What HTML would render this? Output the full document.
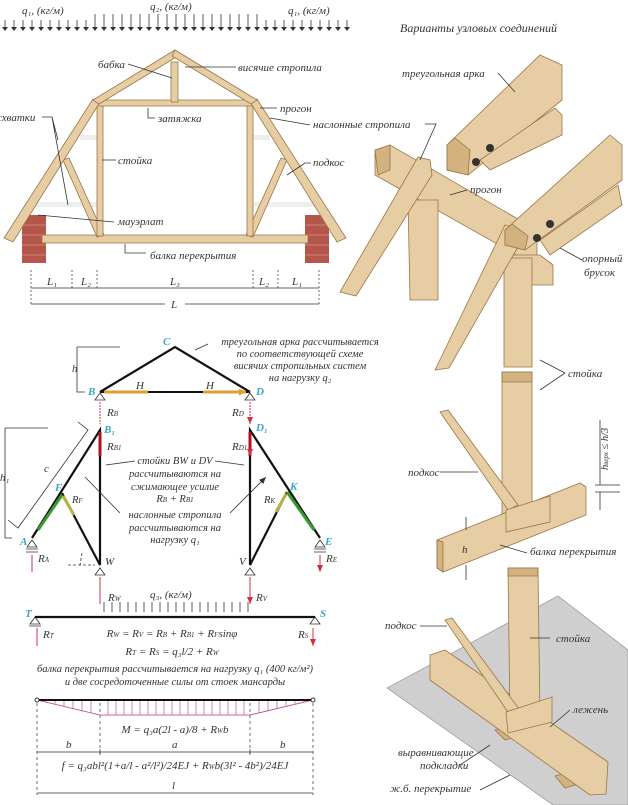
<!DOCTYPE html>
<html><head><meta charset="utf-8"><style>
html,body{margin:0;padding:0;background:#fff;}
svg{display:block;}
text{font-family:"Liberation Serif","DejaVu Serif",serif;font-style:italic;fill:#333;}
.l{font-size:11px;}
.s{font-size:10.5px;}
.b{fill:#3aa6c8;font-size:11px;font-weight:bold;}
.wood{fill:#e6cda3;stroke:#9a7647;stroke-width:0.8;}
.wd{fill:#d2b27f;stroke:#9a7647;stroke-width:0.8;}
.ln{stroke:#333;stroke-width:0.8;fill:none;}
</style></head><body>
<svg width="628" height="805" viewBox="0 0 628 805" xmlns="http://www.w3.org/2000/svg">
<defs>
<marker id="ar" markerUnits="userSpaceOnUse" markerWidth="8" markerHeight="8" refX="7" refY="4" orient="auto"><path d="M0,1 L7,4 L0,7 Z" fill="#d03040"/></marker>
<marker id="ab" markerUnits="userSpaceOnUse" markerWidth="8" markerHeight="8" refX="7" refY="4" orient="auto"><path d="M0,1 L7,4 L0,7 Z" fill="#333"/></marker>
<marker id="ao" markerUnits="userSpaceOnUse" markerWidth="8" markerHeight="8" refX="7" refY="4" orient="auto"><path d="M0,0.5 L7,4 L0,7.5 Z" fill="#e0a030"/></marker>
</defs>

<!-- top loads -->
<text x="22" y="14" class="l">q₁, (кг/м)</text>
<text x="150" y="10" class="l">q₂, (кг/м)</text>
<text x="288" y="14" class="l">q₁, (кг/м)</text>
<g stroke="#333" stroke-width="0.8">
<path d="M5,20V30M14,20V30M23,20V30M32,20V30M41,20V30M50,20V30M59,20V30M68,20V30M77,20V30M86,20V30M95,14V30M104,14V30M113,14V30M122,14V30M131,14V30M140,14V30M149,14V30M158,14V30M167,14V30M176,14V30M185,14V30M194,14V30M203,14V30M212,14V30M221,14V30M230,14V30M239,14V30M248,14V30M257,14V30M266,20V30M275,20V30M284,20V30M293,20V30M302,20V30M311,20V30M320,20V30M329,20V30M338,20V30M347,20V30"/>
</g>
<g fill="#333"><path d="M2,27h6l-3,4zM11,27h6l-3,4zM20,27h6l-3,4zM29,27h6l-3,4zM38,27h6l-3,4zM47,27h6l-3,4zM56,27h6l-3,4zM65,27h6l-3,4zM74,27h6l-3,4zM83,27h6l-3,4zM92,27h6l-3,4zM101,27h6l-3,4zM110,27h6l-3,4zM119,27h6l-3,4zM128,27h6l-3,4zM137,27h6l-3,4zM146,27h6l-3,4zM155,27h6l-3,4zM164,27h6l-3,4zM173,27h6l-3,4zM182,27h6l-3,4zM191,27h6l-3,4zM200,27h6l-3,4zM209,27h6l-3,4zM218,27h6l-3,4zM227,27h6l-3,4zM236,27h6l-3,4zM245,27h6l-3,4zM254,27h6l-3,4zM263,27h6l-3,4zM272,27h6l-3,4zM281,27h6l-3,4zM290,27h6l-3,4zM299,27h6l-3,4zM308,27h6l-3,4zM317,27h6l-3,4zM326,27h6l-3,4zM335,27h6l-3,4zM344,27h6l-3,4z"/></g>

<!-- truss -->
<g>
<rect x="80" y="135" width="20" height="5" fill="#eee"/><rect x="250" y="135" width="20" height="5" fill="#eee"/>
<rect x="35" y="202" width="65" height="5" fill="#eee"/><rect x="250" y="202" width="65" height="5" fill="#eee"/>
<rect x="22" y="215" width="24" height="48" fill="#b5564a"/><rect x="305" y="215" width="24" height="48" fill="#b5564a"/>
<path d="M22,225h24M22,235h24M22,245h24M22,255h24M305,225h24M305,235h24M305,245h24M305,255h24" stroke="#e8b0a8" stroke-width="0.6"/>
<polygon class="wood" points="42,235 308,235 308,243 42,243"/>
<polygon class="wood" points="63,160 69,158 104,235 97,237"/>
<polygon class="wood" points="287,160 281,158 246,235 253,237"/>
<polygon class="wood" points="97,104 103,104 103,236 97,236"/>
<polygon class="wood" points="247,104 253,104 253,236 247,236"/>
<polygon class="wood" points="93,100 257,100 257,106 93,106"/>
<polygon class="wood" points="4,238 93,99 100,102 13,242"/>
<polygon class="wood" points="346,238 257,99 250,102 337,242"/>
<polygon class="wood" points="93,100 175,50 178,56 99,104"/>
<polygon class="wood" points="257,100 175,50 172,56 251,104"/>
<rect x="171" y="62" width="7" height="40" class="wood"/>
</g>
<g class="ln">
<path d="M128,64 L172,78"/><path d="M185,67H236"/><path d="M148,108V118H155"/><path d="M260,108H277"/><path d="M270,118 L310,125"/>
<path d="M42,117H52L68,205M52,117L58,140"/><path d="M102,160H116"/><path d="M287,175 L305,163H311"/><path d="M38,215 L114,222"/><path d="M125,244V253H146"/>
</g>
<text x="98" y="68" class="l">бабка</text>
<text x="238" y="71" class="l">висячие стропила</text>
<text x="158" y="122" class="l">затяжка</text>
<text x="280" y="112" class="l">прогон</text>
<text x="313" y="128" class="l">наслонные стропила</text>
<text x="-3" y="121" class="l">схватки</text>
<text x="118" y="164" class="l">стойка</text>
<text x="313" y="166" class="l">подкос</text>
<text x="118" y="225" class="l">мауэрлат</text>
<text x="150" y="259" class="l">балка перекрытия</text>
<!-- dims -->
<g stroke="#333" stroke-width="0.7" stroke-dasharray="2,2"><path d="M31,270V305M72,270V290M97,270V290M253,270V290M278,270V290M319,270V305"/></g>
<path d="M31,288H319M31,304H165M185,304H319" stroke="#333" stroke-width="0.7"/>
<text x="47" y="285" class="l">L₁</text><text x="81" y="285" class="l">L₂</text><text x="170" y="285" class="l">L₃</text><text x="259" y="285" class="l">L₂</text><text x="292" y="285" class="l">L₁</text><text x="171" y="308" class="l">L</text>

<!-- middle scheme -->
<path d="M77,347H120M77,347V392H85" class="ln"/><text x="72" y="372" class="l">h</text>
<path d="M100,392 L175,347 L250,392" stroke="#111" stroke-width="2.2" fill="none"/>
<path d="M100,392H250" stroke="#111" stroke-width="2"/>
<path d="M148,392H104M203,392H246" stroke="#e0a030" stroke-width="3" marker-end="url(#ao)"/>
<text x="136" y="389" class="l">H</text><text x="206" y="389" class="l">H</text>
<text x="163" y="345" class="b">C</text><text x="88" y="395" class="b">B</text><text x="256" y="395" class="b">D</text>
<path d="M195,350 L208,344" class="ln"/>
<g class="s" text-anchor="middle"><text x="300" y="345">треугольная арка рассчитывается</text><text x="300" y="357">по соответствующей схеме</text><text x="300" y="369">висячих стропильных систем</text><text x="300" y="381">на нагрузку q₂</text></g>
<g fill="none" stroke="#333" stroke-width="0.8"><path d="M100,393 l-5,7h10z M250,393 l-5,7h10z M100,568 l-5,7h10z M250,568 l-5,7h10z M32,540 l-5,7h10z M320,540 l-5,7h10z M35,617 l-5,7h10z M315,617 l-5,7h10z"/>
<path d="M26,549h12M26,552h12M314,549h12M314,552h12M29,626h12"/></g>
<path d="M100,402V424M250,402V424" stroke="#d03040" stroke-width="1" stroke-dasharray="2,1" marker-end="url(#ar)"/>
<text x="107" y="416" class="l">R<tspan font-size="7">B</tspan></text><text x="232" y="416" class="l">R<tspan font-size="7">D</tspan></text>
<text x="104" y="433" class="b">B₁</text><text x="256" y="431" class="b">D₁</text>
<path d="M32,538 L100,430 L100,565 L62,493" stroke="#111" stroke-width="2.2" fill="none"/>
<path d="M320,538 L250,430 L250,565 L287,492" stroke="#111" stroke-width="2.2" fill="none"/>
<path d="M100,432V456M250,432V456" stroke="#b01020" stroke-width="3" marker-end="url(#ar)"/>
<text x="107" y="450" class="l">R<tspan font-size="7">B1</tspan></text><text x="232" y="450" class="l">R<tspan font-size="7">D1</tspan></text>
<path d="M62,495 L38,530" stroke="#3a9a30" stroke-width="3"/><path d="M287,492 L314,530" stroke="#3a9a30" stroke-width="3"/>
<path d="M63,496 L74,515" stroke="#b8b040" stroke-width="3"/><path d="M286,494 L276,512" stroke="#b8b040" stroke-width="3"/>
<text x="55" y="491" class="b">F</text><text x="290" y="490" class="b">K</text>
<text x="20" y="545" class="b">A</text><text x="325" y="545" class="b">E</text>
<text x="105" y="565" class="l">W</text><text x="239" y="565" class="l">V</text>
<text x="72" y="503" class="s">R<tspan font-size="7">F</tspan></text><text x="264" y="503" class="s">R<tspan font-size="7">K</tspan></text>
<path d="M32,555V572M320,555V572" stroke="#d03040" stroke-width="1" marker-end="url(#ar)"/>
<text x="38" y="562" class="l">R<tspan font-size="7">A</tspan></text><text x="326" y="562" class="l">R<tspan font-size="7">E</tspan></text>
<path d="M5,428H48M5,428V538H12" class="ln"/><text x="0" y="481" class="l">h₁</text>
<path d="M78,422 L88,430 L18,528 L8,520" class="ln"/><text x="44" y="472" class="l">c</text>
<path d="M68,565H95M82,553 L80,565" class="ln" stroke-dasharray="3,2"/>
<g class="s" text-anchor="middle"><text x="175" y="464">стойки BW и DV</text><text x="175" y="477">рассчитываются на</text><text x="175" y="490">сжимающее усилие</text><text x="175" y="502">R<tspan font-size="7">B</tspan> + R<tspan font-size="7">B1</tspan></text>
<text x="175" y="518">наслонные стропила</text><text x="175" y="531">рассчитываются на</text><text x="175" y="543">нагрузку q₁</text></g>
<path d="M135,461 L106,465M215,461 L244,465M120,513 L85,477M230,513 L266,477" class="ln" marker-end="url(#ab)"/>

<!-- beam TS -->
<path d="M100,577V604M250,577V604" stroke="#d03040" stroke-width="1" marker-end="url(#ar)"/>
<text x="108" y="601" class="l">R<tspan font-size="7">W</tspan></text><text x="256" y="601" class="l">R<tspan font-size="7">V</tspan></text>
<text x="150" y="598" class="l">q₃, (кг/м)</text>
<g stroke="#333" stroke-width="0.8"><path d="M104,602V612M112,602V612M120,602V612M128,602V612M136,602V612M144,602V612M152,602V612M160,602V612M168,602V612M176,602V612M184,602V612M192,602V612M200,602V612M208,602V612M216,602V612M224,602V612M232,602V612M240,602V612M248,602V612"/></g>
<path d="M35,617H315" stroke="#111" stroke-width="2.2"/>
<text x="25" y="617" class="b">T</text><text x="320" y="617" class="b">S</text>
<path d="M37,628V646M313,628V646" stroke="#d03040" stroke-width="1" marker-end="url(#ar)"/>
<text x="43" y="638" class="l">R<tspan font-size="7">T</tspan></text><text x="298" y="638" class="l">R<tspan font-size="7">S</tspan></text>
<g class="l" text-anchor="middle"><text x="172" y="637">R<tspan font-size="7">W</tspan> = R<tspan font-size="7">V</tspan> = R<tspan font-size="7">B</tspan> + R<tspan font-size="7">B1</tspan> + R<tspan font-size="7">F</tspan>sinφ</text>
<text x="172" y="655">R<tspan font-size="7">T</tspan> = R<tspan font-size="7">S</tspan> = q₃l/2 + R<tspan font-size="7">W</tspan></text>
<text x="175" y="672" class="s">балка перекрытия рассчитывается на  нагрузку q₁ (400 кг/м²)</text>
<text x="175" y="685" class="s">и две сосредоточенные силы от стоек мансарды</text></g>
<path d="M37,700 L100,715 L250,715 L313,700" stroke="#b04080" stroke-width="0.8" fill="none"/>
<g stroke="#b04080" stroke-width="0.6"><path d="M46,700V702M55,700V704M64,700V706M73,700V709M82,700V711M91,700V713M108,700V715M116,700V715M124,700V715M132,700V715M140,700V715M148,700V715M156,700V715M164,700V715M172,700V715M180,700V715M188,700V715M196,700V715M204,700V715M212,700V715M220,700V715M228,700V715M236,700V715M244,700V715M259,700V713M268,700V711M277,700V709M286,700V706M295,700V704M304,700V702"/></g>
<path d="M37,700H313" stroke="#111" stroke-width="2"/>
<circle cx="37" cy="700" r="2" fill="#fff" stroke="#333"/><circle cx="313" cy="700" r="2" fill="#fff" stroke="#333"/>
<g stroke="#333" stroke-width="0.7" stroke-dasharray="3,3"><path d="M37,703V795M100,703V755M250,703V755M313,703V795"/></g>
<text x="175" y="733" class="l" text-anchor="middle">M = q₃a(2l - a)/8 + R<tspan font-size="7">W</tspan>b</text>
<text x="66" y="748" class="l">b</text><text x="172" y="748" class="l">a</text><text x="280" y="748" class="l">b</text>
<path d="M37,752H313M100,749V755M250,749V755" stroke="#333" stroke-width="0.7"/>
<text x="175" y="769" class="l" text-anchor="middle">f = q₃abl²(1+a/l - a²/l²)/24EJ + R<tspan font-size="7">W</tspan>b(3l² - 4b²)/24EJ</text>
<text x="172" y="789" class="l">l</text>
<path d="M37,793H313" stroke="#333" stroke-width="0.7"/>

<!-- right side -->
<text x="400" y="32" font-size="12">Варианты узловых соединений</text>
<polygon fill="#cfcfcf" stroke="#888" stroke-width="0.6" points="387,688 558,596 628,650 628,805 553,805"/>
<!-- upper node -->
<polygon class="wood" points="375,150 390,145 537,230 537,255 522,258 375,175"/>
<polygon class="wd" points="375,150 378,175 390,170 390,145"/>
<polygon class="wood" points="408,200 438,200 438,300 410,300"/>
<polygon class="wood" points="340,292 418,157 430,160 432,175 356,296"/>
<polygon class="wood" points="447,145 540,55 562,65 562,100 468,175 447,170"/>
<polygon class="wd" points="447,145 455,138 470,150 468,175 447,170"/>
<polygon class="wood" points="480,160 555,108 562,115 562,135 490,170"/>
<polygon class="wood" points="505,255 540,255 553,265 553,285 520,285"/>
<polygon class="wood" points="504,258 532,258 532,367 504,367"/>
<polygon class="wood" points="435,370 505,225 517,228 519,245 449,368"/>
<polygon class="wood" points="505,230 610,135 622,145 622,180 525,250 505,245"/>
<polygon class="wd" points="505,230 512,224 528,236 525,250 505,245"/>
<polygon class="wood" points="540,240 618,185 622,205 550,255"/>
<g fill="#333"><circle cx="490" cy="148" r="4"/><circle cx="476" cy="162" r="4"/><circle cx="550" cy="224" r="4"/><circle cx="537" cy="238" r="4"/></g>
<!-- middle node -->
<polygon class="wood" points="502,372 532,372 532,520 502,520"/>
<polygon class="wd" points="502,372 532,372 532,382 502,382"/>
<polygon class="wood" points="440,412 448,410 518,505 508,510"/>
<polygon class="wood" points="437,540 580,483 586,487 586,515 443,572 437,568"/>
<polygon class="wd" points="437,540 443,542 443,572 437,568"/>
<polygon class="wood" points="506,510 550,496 550,522 506,532"/>
<!-- bottom node -->
<polygon class="wd" points="440,682 458,678 470,690 452,694"/><polygon class="wd" points="495,730 515,725 525,735 505,740"/><polygon class="wd" points="555,776 575,770 585,782 565,788"/>
<polygon class="wood" points="430,655 445,650 608,762 606,794 590,795 430,680"/>
<polygon class="wood" points="508,568 538,568 540,720 510,720"/>
<polygon class="wd" points="508,568 538,568 538,576 508,576"/>
<polygon class="wood" points="445,620 452,618 522,713 512,718"/>
<polygon class="wood" points="506,712 552,697 552,722 508,733"/>
<!-- right labels -->
<g class="ln"><path d="M498,73 L515,92"/><path d="M425,124H436L420,160"/><path d="M467,190 L450,195"/><path d="M582,260 L560,248"/><path d="M565,373 L540,360M565,373 L540,390"/><path d="M600,420V485M595,485H620M595,492H620M600,492V510"/><path d="M440,472 L478,472"/><path d="M466,517V530M466,565V580"/><path d="M527,553 L500,545"/><path d="M420,626H447"/><path d="M550,638H530"/><path d="M570,710 L550,727"/><path d="M460,765 L490,745"/><path d="M480,790 L510,775"/></g>
<text x="402" y="77" class="l">треугольная арка</text>
<text x="470" y="193" class="l">прогон</text>
<text x="582" y="262" class="l">опорный</text><text x="584" y="276" class="l">брусок</text>
<text x="568" y="377" class="l">стойка</text>
<text x="0" y="0" class="s" transform="translate(608,470) rotate(-90)">h<tspan font-size="7">верх</tspan> ≤ h/3</text>
<text x="408" y="476" class="l">подкос</text>
<text x="462" y="553" class="l">h</text>
<text x="530" y="555" class="l">балка перекрытия</text>
<text x="385" y="629" class="l">подкос</text>
<text x="556" y="642" class="l">стойка</text>
<text x="573" y="713" class="l">лежень</text>
<text x="398" y="756" class="l">выравнивающие</text><text x="420" y="769" class="l">подкладки</text>
<text x="390" y="792" class="l">ж.б. перекрытие</text>
</svg>
</body></html>
